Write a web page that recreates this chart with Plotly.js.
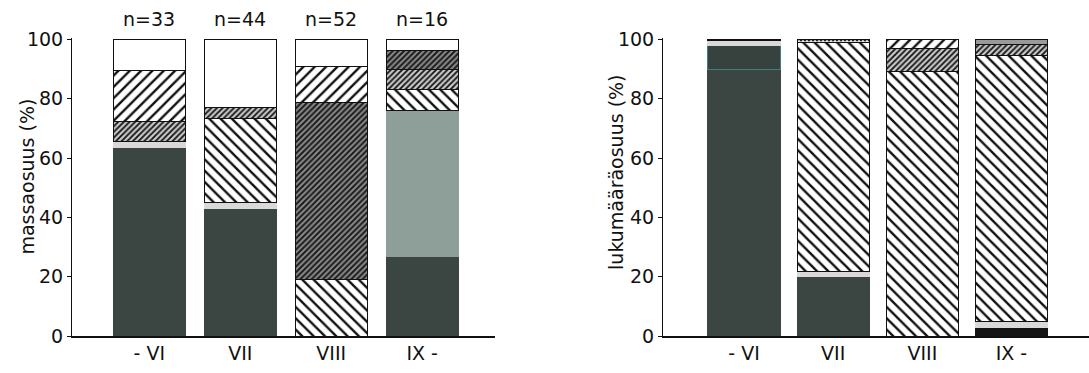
<!DOCTYPE html>
<html>
<head>
<meta charset="utf-8">
<script src="https://cdn.plot.ly/plotly-3.0.1.min.js"></script>
<style>
  html, body { margin: 0; padding: 0; background: #ffffff; }
  #kaavio { width: 1089px; height: 373px; }
</style>
</head>
<body>
<div id="kaavio"></div>
<script>
// Kuukausiryhmät ja näytemäärät
const kuukaudet = ['- VI', 'VII', 'VIII', 'IX -'];
const otoskoot = [33, 44, 52, 16];

// Akseleiden otsikot
const otsikot = ['massaosuus (%)', 'lukumääräosuus (%)'];

// Massaosuudet (%) kerroksittain alhaalta ylös
const massaTumma      = [63.5, 43.0, 0.0, 26.7];
const massaVaalea     = [2.1, 2.0, 0.0, 0.0];
const massaHarmaa     = [0.0, 0.0, 0.0, 49.3];
const massaVino2      = [0.0, 28.4, 19.1, 7.1];
const massaTihea      = [6.8, 3.6, 0.0, 6.8];
const massaRistikko   = [0.0, 0.0, 59.5, 6.4];
const massaVino1      = [17.1, 0.0, 12.4, 0.0];
const massaValkoinen  = [10.5, 23.0, 9.0, 3.7];

// Lukumääräosuudet (%) kerroksittain alhaalta ylös
const lukuTumma     = [90.0, 20.2, 0.0, 0.0];
const lukuTumma2    = [8.0, 0.0, 0.0, 0.0];
const lukuMusta     = [0.0, 0.0, 0.0, 2.8];
const lukuVaalea    = [1.5, 1.7, 0.0, 2.2];
const lukuVino2     = [0.0, 77.1, 89.1, 89.7];
const lukuTihea     = [0.0, 0.0, 7.9, 3.7];
const lukuVino1     = [0.0, 0.0, 3.0, 0.0];
const lukuHarmaa    = [0.0, 0.0, 0.0, 1.6];
const lukuPisteet   = [0.5, 1.0, 0.0, 0.0];

// Täyttötyylit
const tyylit = {
  tumma:     { color: '#3b4542', line: '#3b4542' },
  tumma2:    { color: '#37413e', line: '#3d7f7a' },
  musta:     { color: '#151515', line: '#151515' },
  vaalea:    { color: '#d9d9d9', line: '#d9d9d9' },
  harmaa:    { color: '#8e9e98', line: '#8e9e98' },
  harmaa2:   { color: '#9a9a9a', line: '#111111' },
  valkoinen: { color: '#ffffff', line: '#111111' },
  vino1:     { pattern: { shape: '/', size: 8, solidity: 0.3, fgcolor: '#111111', bgcolor: '#ffffff' }, line: '#111111' },
  vino2:     { pattern: { shape: '\\', size: 8, solidity: 0.3, fgcolor: '#111111', bgcolor: '#ffffff' }, line: '#111111' },
  tihea:     { pattern: { shape: '/', size: 4, solidity: 0.45, fgcolor: '#111111', bgcolor: '#c8c8c8' }, line: '#111111' },
  ristikko:  { pattern: { shape: '/', size: 4, solidity: 0.5, fgcolor: '#1a1a1a', bgcolor: '#8c8c8c' }, line: '#111111' },
  pisteet:   { pattern: { shape: '.', size: 4, solidity: 0.4, fgcolor: '#222222', bgcolor: '#e6e6e6' }, line: '#111111' }
};

function pylvas(arvot, tyyli, akseli, leveys) {
  const t = tyylit[tyyli];
  const marker = { line: { color: t.line, width: 1 } };
  if (t.pattern) {
    marker.color = t.pattern.bgcolor;
    marker.pattern = Object.assign({ fillmode: 'replace' }, t.pattern);
  } else {
    marker.color = t.color;
  }
  return {
    type: 'bar',
    x: kuukaudet,
    y: arvot,
    xaxis: akseli === 1 ? 'x' : 'x2',
    yaxis: akseli === 1 ? 'y' : 'y2',
    width: leveys,
    marker: marker,
    hoverinfo: 'skip',
    showlegend: false
  };
}

const data = [
  pylvas(massaTumma, 'tumma', 1, 0.79),
  pylvas(massaVaalea, 'vaalea', 1, 0.79),
  pylvas(massaHarmaa, 'harmaa', 1, 0.79),
  pylvas(massaVino2, 'vino2', 1, 0.79),
  pylvas(massaTihea, 'tihea', 1, 0.79),
  pylvas(massaRistikko, 'ristikko', 1, 0.79),
  pylvas(massaVino1, 'vino1', 1, 0.79),
  pylvas(massaValkoinen, 'valkoinen', 1, 0.79),

  pylvas(lukuTumma, 'tumma', 2, 0.81),
  pylvas(lukuTumma2, 'tumma2', 2, 0.81),
  pylvas(lukuMusta, 'musta', 2, 0.81),
  pylvas(lukuVaalea, 'vaalea', 2, 0.81),
  pylvas(lukuVino2, 'vino2', 2, 0.81),
  pylvas(lukuTihea, 'tihea', 2, 0.81),
  pylvas(lukuVino1, 'vino1', 2, 0.81),
  pylvas(lukuHarmaa, 'harmaa2', 2, 0.81),
  pylvas(lukuPisteet, 'pisteet', 2, 0.81)
];

const fontti = { family: 'DejaVu Sans, Arial, sans-serif', size: 19, color: '#111111' };

function xAkseli(domain, range) {
  return {
    domain: domain,
    range: range,
    type: 'category',
    showline: true,
    linecolor: '#111111',
    linewidth: 1.5,
    ticks: '',
    showgrid: false,
    zeroline: false,
    tickfont: fontti,
    fixedrange: true
  };
}

function yAkseli(anchor) {
  return {
    anchor: anchor,
    range: [0, 100.5],
    tickvals: [0, 20, 40, 60, 80, 100],
    ticks: 'outside',
    ticklen: 4,
    tickwidth: 1,
    tickcolor: '#111111',
    showline: true,
    linecolor: '#111111',
    linewidth: 1,
    showgrid: false,
    zeroline: false,
    tickfont: fontti,
    fixedrange: true
  };
}

// n-merkinnät pylväiden yläpuolelle
const annotations = otoskoot.map((n, i) => ({
  xref: 'x',
  yref: 'paper',
  x: kuukaudet[i],
  y: 1,
  yanchor: 'bottom',
  yshift: 6,
  text: 'n=' + n,
  showarrow: false,
  font: fontti
}));

// Pystysuorat akselien otsikot lähelle asteikkoa
annotations.push(
  { xref: 'paper', yref: 'paper', x: 0.0248, y: 0.535, text: otsikot[0], textangle: -90,
    showarrow: false, xanchor: 'center', yanchor: 'middle', font: fontti },
  { xref: 'paper', yref: 'paper', x: 0.5655, y: 0.55, text: otsikot[1], textangle: -90,
    showarrow: false, xanchor: 'center', yanchor: 'middle', font: fontti }
);

const layout = {
  width: 1089,
  height: 373,
  margin: { l: 0, r: 0, t: 38, b: 37 },
  paper_bgcolor: '#ffffff',
  plot_bgcolor: '#ffffff',
  barmode: 'stack',
  showlegend: false,
  xaxis: Object.assign(xAkseli([0.0661, 0.4545], [-0.85, 3.8]), { anchor: 'y' }),
  yaxis: yAkseli('x'),
  xaxis2: Object.assign(xAkseli([0.6088, 1.0], [-0.91, 3.87]), { anchor: 'y2' }),
  yaxis2: yAkseli('x2'),
  annotations: annotations
};

Plotly.newPlot('kaavio', data, layout, { displayModeBar: false, staticPlot: true });
</script>
</body>
</html>
